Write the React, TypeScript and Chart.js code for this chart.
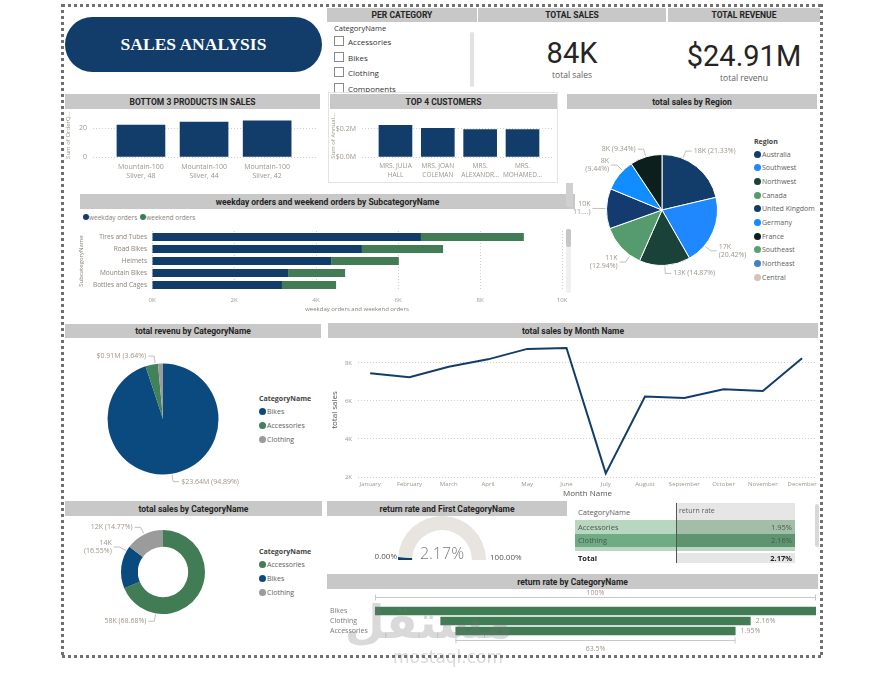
import React, { useEffect, useRef } from "react";
import { Chart, registerables } from "chart.js";
Chart.register(...registerables);

// ---------- data ----------
const slicerItems = ["Accessories", "Bikes", "Clothing", "Components"];
const kpiSales = "84K";
const kpiRevenue = "$24.91M";

const bottomProducts = [["Mountain-100", "Silver, 48"], ["Mountain-100", "Silver, 44"], ["Mountain-100", "Silver, 42"]];
const bottomQty = [22, 24, 25];
const bottomTicks = [0, 20];

const customers = [["MRS. JULIA", "HALL"], ["MRS. JOAN", "COLEMAN"], ["MRS.", "ALEXANDR..."], ["MRS.", "MOHAMED..."]];
const customerIncome = [0.226, 0.205, 0.195, 0.195];
const customerTicks = [0, 0.2];

const regions = ["Australia", "Southwest", "Northwest", "Canada", "United Kingdom", "Germany", "France", "Southeast", "Northeast", "Central"];
const regionSales = [18003, 17235, 12551, 10922, 9842, 7968, 7884, 0, 0, 0];
const regionLabels = [["18K (21.33%)"], ["17K", "(20.42%)"], ["13K (14.87%)"], ["11K", "(12.94%)"], ["10K", "11....)"], ["8K", "(9.44%)"], ["8K (9.34%)"], [], [], []];
const regionColors = ["#123d6b", "#2088ff", "#1b4239", "#559b6d", "#143b70", "#118dff", "#0c1f1d", "#5aa06f", "#3f82c8", "#d8c1bb"];

const subcats = ["Tires and Tubes", "Road Bikes", "Helmets", "Mountain Bikes", "Bottles and Cages"];
const weekdayOrders = [6560, 5120, 4370, 3320, 3170];
const weekendOrders = [2510, 1980, 1650, 1390, 1320];

const revenueCats = ["Bikes", "Accessories", "Clothing"];
const revenueM = [23.64, 0.91, 0.36];
const revenueLabels = [["$23.64M (94.89%)"], ["$0.91M (3.64%)"], []];
const revenueColors = ["#0b4a7f", "#41825a", "#9b9b9b"];

const months = ["January", "February", "March", "April", "May", "June", "July", "August", "September", "October", "November", "December"];
const monthSales = [7460, 7250, 7800, 8190, 8740, 8790, 2190, 6230, 6160, 6620, 6530, 8250];
const monthTicks = [2000, 4000, 6000, 8000];

const salesCats = ["Accessories", "Bikes", "Clothing"];
const catSales = [57970, 13970, 12470];
const catLabels = [["58K (68.68%)"], ["14K", "(16.55%)"], ["12K (14.77%)"]];
const catColors = ["#417c55", "#0b4a7f", "#9b9b9b"];

const returnTotal = 2.17;
const tableCats = ["Accessories", "Clothing"];
const tableRates = [1.95, 2.16];

const funnelCats = ["Bikes", "Clothing", "Accessories"];
const funnelRates = [3.07, 2.16, 1.95];

// ---------- styles ----------
const FONT = "'Open Sans', 'Noto Sans', sans-serif";
const HFONT = "Roboto, 'Noto Sans', sans-serif";
const TICK = "#9e958a";
const NAVY = "#123d6b";
const GREEN = "#417c55";
const HEAD_BG = "#c8c8c8";

function pieLabelPlugin(lines: string[][], angles: (number | null)[]) {
  return {
    id: "pieLabels",
    afterDatasetsDraw(chart: any) {
      const meta = chart.getDatasetMeta(0);
      const ctx = chart.ctx;
      meta.data.forEach((arc: any, i: number) => {
        const txt = lines[i];
        if (!txt || !txt.length) return;
        const p = arc.getProps(["x", "y", "outerRadius", "startAngle", "endAngle"], true);
        let a = (p.startAngle + p.endAngle) / 2;
        if (angles[i] != null) a = ((angles[i] as number) * Math.PI) / 180 - Math.PI / 2;
        const c = Math.cos(a), s = Math.sin(a);
        const r = p.outerRadius;
        const x0 = p.x + c * (r + 1), y0 = p.y + s * (r + 1);
        const x1 = p.x + c * (r + 8), y1 = p.y + s * (r + 8);
        const right = c >= 0;
        const x2 = x1 + (right ? 6 : -6);
        ctx.save();
        ctx.strokeStyle = "#c4beb6";
        ctx.lineWidth = 1;
        ctx.beginPath();
        ctx.moveTo(x0, y0);
        ctx.lineTo(x1, y1);
        ctx.lineTo(x2, y1);
        ctx.stroke();
        ctx.fillStyle = TICK;
        ctx.font = `7px ${FONT}`;
        ctx.textAlign = right ? "left" : "right";
        ctx.textBaseline = "middle";
        const n = txt.length;
        txt.forEach((t, k) => ctx.fillText(t, x2 + (right ? 2 : -2), y1 + (k - (n - 1) / 2) * 8));
        ctx.restore();
      });
    },
  };
}

const funnelPlugin = {
  id: "funnelDeco",
  afterDatasetsDraw(chart: any) {
    const meta = chart.getDatasetMeta(0);
    const ctx = chart.ctx;
    const bars = meta.data;
    ctx.save();
    ctx.strokeStyle = "#c8c8c8";
    ctx.lineWidth = 1;
    ctx.fillStyle = TICK;
    ctx.font = `7px ${FONT}`;
    const first = bars[0], last = bars[bars.length - 1];
    const fy = Math.round(first.y - first.height / 2 - 9.5) + 0.5;
    const ly = Math.round(last.y + last.height / 2 + 5) + 0.5;
    const seg = (l: number, r: number, y: number) => {
      ctx.beginPath();
      ctx.moveTo(l, y); ctx.lineTo(r, y);
      ctx.moveTo(l + 0.5, y - 3); ctx.lineTo(l + 0.5, y + 3);
      ctx.moveTo(r - 0.5, y - 3); ctx.lineTo(r - 0.5, y + 3);
      ctx.stroke();
    };
    seg(Math.min(first.base, first.x), Math.max(first.base, first.x), fy);
    seg(Math.min(last.base, last.x), Math.max(last.base, last.x), ly);
    ctx.textAlign = "center";
    ctx.textBaseline = "middle";
    ctx.fillText("100%", (first.base + first.x) / 2, fy - 4.5);
    const pct = (funnelRates[funnelRates.length - 1] / funnelRates[0]) * 100;
    ctx.fillText(pct.toFixed(1) + "%", (last.base + last.x) / 2, ly + 8);
    ctx.textAlign = "left";
    bars.forEach((b: any, i: number) => {
      ctx.fillText(funnelRates[i].toFixed(2) + "%", Math.max(b.base, b.x) + 5, b.y);
    });
    ctx.restore();
  },
};

function ChartBox({ x, y, w, h, config }: any) {
  const ref = useRef<HTMLCanvasElement>(null);
  useEffect(() => {
    const c = new Chart(ref.current as HTMLCanvasElement, config);
    return () => c.destroy();
  }, []);
  return <canvas ref={ref} width={w} height={h} style={{ position: "absolute", left: x, top: y, width: w, height: h, display: "block" }} />;
}

const baseOpts = {
  animation: false,
  responsive: false,
  maintainAspectRatio: false,
  events: [],
};
const noLegend = { legend: { display: false }, tooltip: { enabled: false } };
const tickFont = { size: 7, family: FONT };
const dotted = { display: false, dash: [1, 2] };
const gridC = { color: "#cfcfcf", drawTicks: false };
const noGrid = { display: false, drawTicks: false };
const fixH = (hgt: number) => (s: any) => { s.height = hgt; s.paddingLeft = 0; s.paddingRight = 0; };
const fixW = (wid: number) => (s: any) => { s.width = wid; s.paddingTop = 0; s.paddingBottom = 0; };

const bottomCfg: any = {
  type: "bar",
  data: { datasets: [{ data: bottomQty.map((v, i) => ({ x: i, y: v })), backgroundColor: NAVY, barThickness: 48 }] },
  options: {
    ...baseOpts,
    plugins: noLegend,
    layout: { padding: { top: 3.5, right: 3, left: 0, bottom: 0 } },
    scales: {
      x: {
        type: "linear", offset: false, min: -0.76, max: 2.79,
        afterBuildTicks: (s: any) => { s.ticks = bottomQty.map((_, i) => ({ value: i })); },
        afterFit: fixH(28),
        ticks: { callback: (v: number) => bottomProducts[v], color: TICK, font: { ...tickFont, lineHeight: 1.3 }, padding: 5, maxRotation: 0, autoSkip: false },
        grid: noGrid, border: { display: false },
      },
      y: {
        min: 0, max: 30,
        afterBuildTicks: (s: any) => { s.ticks = bottomTicks.map((v) => ({ value: v })); },
        afterFit: fixW(28),
        ticks: { color: TICK, font: tickFont, padding: 6 },
        grid: gridC, border: dotted,
        title: { display: true, text: "Sum of OrderQ...", color: TICK, font: { size: 6, family: FONT }, padding: { top: 0, bottom: 0 } },
      },
    },
  },
};

const customerCfg: any = {
  type: "bar",
  data: { datasets: [{ data: customerIncome.map((v, i) => ({ x: i, y: v })), backgroundColor: NAVY, barThickness: 33 }] },
  options: {
    ...baseOpts,
    plugins: noLegend,
    layout: { padding: { top: 5, right: 3, left: 0, bottom: 0 } },
    scales: {
      x: {
        type: "linear", offset: false, min: -0.79, max: 3.72,
        afterBuildTicks: (s: any) => { s.ticks = customerIncome.map((_, i) => ({ value: i })); },
        afterFit: fixH(25),
        ticks: { callback: (v: number) => customers[v], color: TICK, font: { ...tickFont, size: 6.5, lineHeight: 1.35 }, padding: 5, maxRotation: 0, autoSkip: false },
        grid: noGrid, border: { display: false },
      },
      y: {
        min: 0, max: 0.3,
        afterBuildTicks: (s: any) => { s.ticks = customerTicks.map((v) => ({ value: v })); },
        afterFit: fixW(32),
        ticks: { color: TICK, font: tickFont, padding: 6, callback: (v: number) => "$" + v.toFixed(1) + "M" },
        grid: gridC, border: dotted,
        title: { display: true, text: "Sum of Annual...", color: TICK, font: { size: 6, family: FONT }, padding: { top: 0, bottom: 0 } },
      },
    },
  },
};

const regionCfg: any = {
  type: "pie",
  data: { labels: regions, datasets: [{ data: regionSales, backgroundColor: regionColors, borderWidth: 1, borderColor: "#ffffff" }] },
  options: { ...baseOpts, plugins: noLegend, layout: { padding: { left: 39, right: 34, top: 42, bottom: 24 } } },
  plugins: [pieLabelPlugin(regionLabels, [22, 130, null, 215, null, 315, null, null, null, null])],
};

const weekCfg: any = {
  type: "bar",
  data: {
    labels: subcats,
    datasets: [
      { label: "weekday orders", data: weekdayOrders, backgroundColor: NAVY },
      { label: "weekend orders", data: weekendOrders, backgroundColor: GREEN },
    ],
  },
  options: {
    ...baseOpts,
    indexAxis: "y",
    plugins: noLegend,
    datasets: { bar: { categoryPercentage: 1, barPercentage: 0.68 } },
    layout: { padding: { top: 9, right: 13, left: 0, bottom: 0 } },
    scales: {
      x: {
        stacked: true, min: 0, max: 10000,
        afterBuildTicks: (s: any) => { s.ticks = [0, 2000, 4000, 6000, 8000, 10000].map((v) => ({ value: v })); },
        afterFit: fixH(24),
        ticks: { color: TICK, font: { size: 6, family: FONT }, padding: 6, callback: (v: number) => v / 1000 + "K" },
        grid: gridC, border: dotted,
        title: { display: true, text: "weekday orders and weekend orders", color: "#8a8178", font: { size: 6, family: FONT }, padding: { top: 0, bottom: 2 } },
      },
      y: {
        stacked: true,
        afterFit: fixW(74),
        ticks: { color: "#8a8178", font: { size: 6.5, family: FONT }, padding: 5, autoSkip: false },
        grid: noGrid, border: { display: false },
        title: { display: true, text: "SubcategoryName", color: "#8a8178", font: { size: 6, family: FONT }, padding: { top: 0, bottom: 0 } },
      },
    },
  },
};

const revenueCfg: any = {
  type: "pie",
  data: { labels: revenueCats, datasets: [{ data: revenueM, backgroundColor: revenueColors, borderWidth: 0 }] },
  options: { ...baseOpts, plugins: noLegend, layout: { padding: { left: 42.5, right: 31.5, top: 23.5, bottom: 25.5 } } },
  plugins: [pieLabelPlugin(revenueLabels, [null, 352, null])],
};

const monthCfg: any = {
  type: "line",
  data: { datasets: [{ data: monthSales.map((v, i) => ({ x: i, y: v })), borderColor: NAVY, borderWidth: 2, pointRadius: 0, tension: 0, clip: false }] },
  options: {
    ...baseOpts,
    plugins: noLegend,
    layout: { padding: { top: 5, right: 3, left: 0, bottom: 0 } },
    scales: {
      x: {
        type: "linear", offset: false, min: -0.31, max: 11.38,
        afterBuildTicks: (s: any) => { s.ticks = months.map((_, i) => ({ value: i })); },
        afterFit: fixH(23),
        ticks: { callback: (v: number) => months[v], color: TICK, font: { size: 6, family: FONT }, padding: 4, maxRotation: 0, autoSkip: false },
        grid: noGrid, border: { display: false },
        title: { display: true, text: "Month Name", color: "#555", font: { size: 8, family: FONT }, padding: { top: 0, bottom: 1 } },
      },
      y: {
        min: 2000, max: 9050,
        afterBuildTicks: (s: any) => { s.ticks = monthTicks.map((v) => ({ value: v })); },
        afterFit: fixW(28),
        ticks: { color: TICK, font: { size: 6, family: FONT }, padding: 6, callback: (v: number) => v / 1000 + "K" },
        grid: gridC, border: dotted,
        title: { display: true, text: "total sales", color: "#555", font: { size: 8, family: FONT }, padding: { top: 0, bottom: 0 } },
      },
    },
  },
};

const catCfg: any = {
  type: "doughnut",
  data: { labels: salesCats, datasets: [{ data: catSales, backgroundColor: catColors, borderWidth: 0 }] },
  options: { ...baseOpts, cutout: "60%", plugins: noLegend, layout: { padding: { left: 56, right: 45, top: 12, bottom: 26 } } },
  plugins: [pieLabelPlugin(catLabels, [190, 300, null])],
};

const gaugeCfg: any = {
  type: "doughnut",
  data: { datasets: [{ data: [returnTotal, 100 - returnTotal], backgroundColor: [NAVY, "#e8e5e0"], borderWidth: 0 }] },
  options: { ...baseOpts, rotation: -90, circumference: 180, cutout: "68%", plugins: noLegend, layout: { padding: 2 } },
};

const funnelCfg: any = {
  type: "bar",
  data: { labels: funnelCats, datasets: [{ data: funnelRates.map((v) => [-v / 2, v / 2]), backgroundColor: GREEN }] },
  options: {
    ...baseOpts,
    indexAxis: "y",
    plugins: noLegend,
    datasets: { bar: { categoryPercentage: 1, barPercentage: 0.85 } },
    layout: { padding: { top: 18, right: 4, left: 2, bottom: 20 } },
    scales: {
      x: { display: false, min: -Math.max(...funnelRates) / 2, max: Math.max(...funnelRates) / 2 },
      y: {
        afterFit: fixW(45),
        ticks: { color: "#7a7a7a", font: { size: 7, family: FONT }, crossAlign: "far", padding: 0, autoSkip: false },
        grid: noGrid, border: { display: false },
      },
    },
  },
  plugins: [funnelPlugin],
};

// ---------- layout helpers ----------
const abs = (x: number, y: number, w: number, h: number, extra: any = {}) => ({ position: "absolute" as const, left: x, top: y, width: w, height: h, ...extra });

function Header({ x, y, w, h, t }: any) {
  return (
    <div style={abs(x, y, w, h, { background: HEAD_BG, display: "flex", alignItems: "center", justifyContent: "center", font: `700 8.5px ${HFONT}`, color: "#252423", whiteSpace: "nowrap" })}>{t}</div>
  );
}

function Legend({ x, y, title, items, colors, step }: any) {
  return (
    <>
      {title ? <div style={abs(x, y - 5, 120, 10, { font: `700 7px ${FONT}`, color: "#444", lineHeight: "10px" })}>{title}</div> : null}
      {items.map((it: string, i: number) => (
        <div key={it} style={abs(x, y + 12 + i * step - 5, 120, 10, { display: "flex", alignItems: "center", font: `7px ${FONT}`, color: "#605e5c" })}>
          <span style={{ width: 7, height: 7, borderRadius: 4, background: colors[i], marginRight: 1, flex: "none" }} />
          {it}
        </div>
      ))}
    </>
  );
}

const headers = [
  { x: 327, y: 8, w: 150, h: 14, t: "PER CATEGORY" },
  { x: 478, y: 8, w: 188, h: 14, t: "TOTAL SALES" },
  { x: 668, y: 8, w: 152, h: 14, t: "TOTAL REVENUE" },
  { x: 65, y: 94, w: 255, h: 15, t: "BOTTOM 3 PRODUCTS IN SALES" },
  { x: 330, y: 94, w: 227, h: 15, t: "TOP 4 CUSTOMERS" },
  { x: 567, y: 94, w: 250, h: 15, t: "total sales by Region" },
  { x: 80, y: 194, w: 495, h: 15, t: "weekday orders and weekend orders by SubcategoryName" },
  { x: 65, y: 324, w: 256, h: 14, t: "total revenu by CategoryName" },
  { x: 328, y: 323, w: 490, h: 15, t: "total sales by Month Name" },
  { x: 65, y: 501, w: 257, h: 15, t: "total sales by CategoryName" },
  { x: 327, y: 501, w: 240, h: 15, t: "return rate and First CategoryName" },
  { x: 327, y: 574, w: 491, h: 15, t: "return rate by CategoryName" },
];

const dots = (dir: string) => `repeating-linear-gradient(${dir}, #707070 0 3px, transparent 3px 6px)`;

export default function App() {
  return (
    <div style={{ position: "absolute", left: 0, top: 0, width: 882, height: 679, background: "#fff", fontFamily: FONT, overflow: "hidden" }}>
      {/* dotted frame */}
      <div style={abs(62, 4, 761, 3, { background: dots("90deg") })} />
      <div style={abs(62, 655, 761, 3, { background: dots("90deg") })} />
      <div style={abs(61, 4, 3, 654, { background: dots("180deg") })} />
      <div style={abs(820, 4, 3, 654, { background: dots("180deg") })} />

      {/* title pill */}
      <div style={abs(65, 17, 257, 55, { background: "#123d6b", borderRadius: 28, display: "flex", alignItems: "center", justifyContent: "center", color: "#fff", font: `700 17.5px 'Liberation Serif', serif` })}>SALES ANALYSIS</div>

      {headers.map((h) => <Header key={h.t} {...h} />)}

      {/* slicer */}
      <div style={abs(330, 22, 148, 71, { overflow: "hidden" })}>
        <div style={abs(4, 1, 100, 10, { font: `7.5px ${FONT}`, color: "#333", lineHeight: "10px" })}>CategoryName</div>
        {slicerItems.map((s, i) => (
          <div key={s} style={abs(4, [19, 35, 50, 66][i] - 6, 120, 12, { display: "flex", alignItems: "center", font: `8px ${FONT}`, color: "#333" })}>
            <span style={{ width: 8, height: 8, border: "1px solid #8a8a8a", marginRight: 4, flex: "none" }} />
            {s}
          </div>
        ))}
        <div style={abs(140, 10, 4, 55, { background: "#e2e2e2", borderRadius: 2 })} />
      </div>

      {/* KPIs */}
      <div style={abs(478, 38, 188, 30, { textAlign: "center", font: `400 29px Roboto, sans-serif`, color: "#252423", lineHeight: "30px" })}>{kpiSales}</div>
      <div style={abs(478, 70, 188, 10, { textAlign: "center", font: `8.5px ${FONT}`, color: "#605e5c", lineHeight: "10px" })}>total sales</div>
      <div style={abs(668, 41, 152, 30, { textAlign: "center", font: `400 29px Roboto, sans-serif`, color: "#252423", lineHeight: "30px" })}>{kpiRevenue}</div>
      <div style={abs(668, 73, 152, 10, { textAlign: "center", font: `8.5px ${FONT}`, color: "#605e5c", lineHeight: "10px" })}>total revenu</div>

      {/* top customers panel border */}
      <div style={abs(328, 92, 230, 91, { border: "1px solid #e3e3e3", boxSizing: "border-box" })} />

      <ChartBox x={65} y={110} w={255} h={75} config={bottomCfg} />
      <ChartBox x={330} y={110} w={226} h={72} config={customerCfg} />

      {/* region */}
      <div style={abs(566, 183, 7, 24, { background: "#d0d0d0" })} />
      <ChartBox x={567} y={112} w={185} h={178} config={regionCfg} />
      <Legend x={754} y={142} title="Region" items={regions} colors={regionColors} step={13.7} />

      {/* weekday / weekend */}
      <div style={abs(83, 212, 200, 10, { display: "flex", alignItems: "center", font: `6.5px ${FONT}`, color: "#8a8178" })}>
        <span style={{ width: 6, height: 6, borderRadius: 3, background: NAVY, marginRight: 0 }} />weekday orders
        <span style={{ width: 6, height: 6, borderRadius: 3, background: GREEN, marginLeft: 3 }} />weekend orders
      </div>
      <ChartBox x={78} y={222} w={497} h={93} config={weekCfg} />
      <div style={abs(566, 229, 5, 64, { background: "#f0f0f0", borderRadius: 2 })} />
      <div style={abs(566, 229, 5, 18, { background: "#c6c6c6", borderRadius: 2 })} />

      {/* revenue pie */}
      <ChartBox x={65} y={340} w={185} h={160} config={revenueCfg} />
      <Legend x={259} y={399} title="CategoryName" items={revenueCats} colors={revenueColors} step={14} />

      {/* month line */}
      <ChartBox x={330} y={338} w={490} h={162} config={monthCfg} />

      {/* category donut */}
      <ChartBox x={65} y={518} w={185} h={122} config={catCfg} />
      <Legend x={259} y={552} title="CategoryName" items={salesCats} colors={catColors} step={14} />

      {/* gauge */}
      <ChartBox x={396} y={514} w={92} h={48} config={gaugeCfg} />
      <div style={abs(402, 543, 80, 20, { textAlign: "center", font: `300 16px ${FONT}`, color: "#7a7a7a", lineHeight: "20px" })}>{returnTotal.toFixed(2)}%</div>
      <div style={abs(360, 551, 37, 10, { textAlign: "right", font: `8px ${FONT}`, color: "#555", lineHeight: "10px" })}>0.00%</div>
      <div style={abs(490, 552, 50, 10, { font: `8px ${FONT}`, color: "#555", lineHeight: "10px" })}>100.00%</div>

      {/* matrix */}
      <div style={abs(575, 503, 101, 17, { font: `7.5px ${FONT}`, color: "#605e5c", display: "flex", alignItems: "center", paddingLeft: 3, boxSizing: "border-box" })}>CategoryName</div>
      <div style={abs(676, 503, 119, 17, { background: "#e6e6e6", font: `7px ${FONT}`, color: "#605e5c", paddingLeft: 3, paddingTop: 3, boxSizing: "border-box" })}>return rate</div>
      {tableCats.map((c, i) => (
        <React.Fragment key={c}>
          <div style={abs(575, 520 + i * 13.5, 101, 13.5, { background: i === 0 ? "#b9d6c0" : "#6fab83", font: `7.5px ${FONT}`, color: "#4a5a4e", display: "flex", alignItems: "center", paddingLeft: 3, boxSizing: "border-box" })}>{c}</div>
          <div style={abs(676, 520 + i * 13.5, 119, 13.5, { background: i === 0 ? "#a2bea9" : "#5f9471", font: `7.5px ${FONT}`, color: "#4a5a4e", display: "flex", alignItems: "center", justifyContent: "flex-end", paddingRight: 3, boxSizing: "border-box" })}>{tableRates[i].toFixed(2)}%</div>
        </React.Fragment>
      ))}
      <div style={abs(575, 547, 220, 4, { background: "#b9d6c0" })} />
      <div style={abs(575, 553, 101, 10, { font: `700 7.5px ${FONT}`, color: "#222", paddingLeft: 3, lineHeight: "10px", boxSizing: "border-box" })}>Total</div>
      <div style={abs(676, 553, 119, 10, { background: "#e6e6e6", font: `700 7.5px ${FONT}`, color: "#222", textAlign: "right", paddingRight: 3, lineHeight: "10px", boxSizing: "border-box" })}>{returnTotal.toFixed(2)}%</div>
      <div style={abs(675.5, 503, 1, 60, { background: "#555" })} />
      <div style={abs(815, 504, 4, 43, { background: "#d8d8d8", borderRadius: 2 })} />

      {/* funnel */}
      <ChartBox x={328} y={588} w={492} h={68} config={funnelCfg} />

      {/* watermark */}
      <div style={abs(383, 596, 130, 52, { textAlign: "center", font: `700 46px 'DejaVu Sans', sans-serif`, color: "rgba(120,120,120,0.28)", lineHeight: "52px", direction: "rtl" })}>مستقل</div>
      <div style={abs(383, 647, 130, 20, { textAlign: "center", font: `17px 'DejaVu Sans', sans-serif`, color: "rgba(120,120,120,0.28)", lineHeight: "20px" })}>mostaql.com</div>
    </div>
  );
}
